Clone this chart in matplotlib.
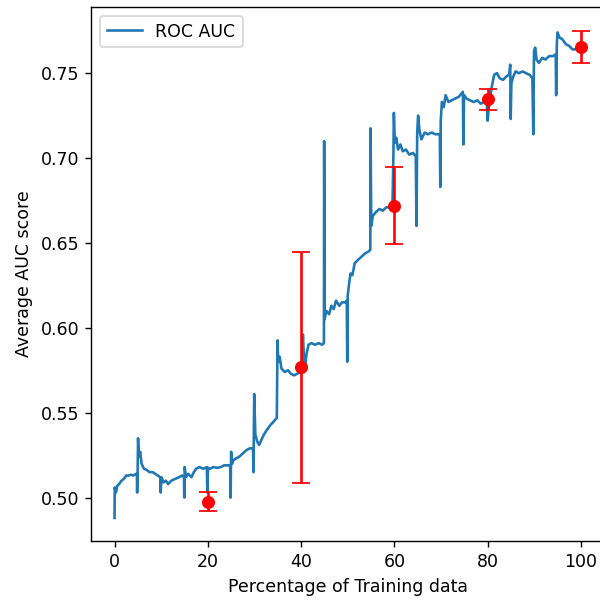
import matplotlib
matplotlib.use('Agg')
import matplotlib.pyplot as plt

# averaged ROC AUC curve
pct = [0.0, 0.05, 0.3, 0.6, 1.0, 1.5, 2.0, 2.5, 3.0, 3.5, 4.0, 4.6, 4.8, 4.85, 4.95,
       5.05, 5.2, 5.5, 5.8, 6.3, 6.8, 7.5, 8.2, 9.0, 9.8, 9.9, 10.05, 10.5, 11.0, 11.5,
       12.2, 13.0, 13.8, 14.5, 14.9, 14.95, 15.05, 15.3, 15.8, 16.5, 17.0, 17.5, 18.2,
       19.0, 19.8, 19.9, 20.05, 20.5, 21.2, 22.0, 22.8, 23.5, 24.3, 24.8, 24.9, 25.0,
       25.2, 25.5, 26.0, 26.7, 27.5, 28.3, 29.0, 29.7, 29.8, 29.95, 30.2, 30.6, 31.0,
       31.5, 32.0, 32.7, 33.5, 34.2, 34.8, 34.95, 35.1, 35.4, 35.8, 36.5, 37.2, 37.8,
       38.5, 39.2, 39.8, 40.2, 40.4, 40.6, 40.9, 41.2, 41.6, 42.2, 43.0, 43.8, 44.5,
       44.9, 44.95, 45.05, 45.4, 46.0, 46.5, 47.0, 47.5, 48.2, 48.8, 49.5, 49.8, 49.9,
       50.0, 50.3, 50.6, 51.0, 51.5, 52.2, 53.0, 53.8, 54.5, 54.85, 54.9, 55.05, 55.4,
       56.0, 56.8, 57.5, 58.3, 59.0, 59.6, 59.8, 59.9, 60.1, 60.4, 60.8, 61.3, 61.8,
       62.5, 63.2, 64.0, 64.6, 64.75, 64.9, 65.1, 65.4, 65.8, 66.5, 67.2, 68.0, 68.8,
       69.5, 69.75, 69.85, 69.95, 70.2, 70.6, 71.0, 71.6, 72.3, 73.0, 73.8, 74.4, 74.7,
       74.8, 74.95, 75.5, 76.2, 77.0, 77.8, 78.5, 79.2, 79.8, 80.0, 80.2, 80.5, 80.9,
       81.4, 82.0, 82.6, 83.3, 84.0, 84.6, 84.85, 84.95, 85.1, 85.5, 86.0, 86.7, 87.5,
       88.2, 89.0, 89.6, 89.8, 89.95, 90.2, 90.5, 91.0, 91.7, 92.4, 93.2, 94.0, 94.6,
       94.7, 94.85, 95.0, 95.4, 96.0, 96.8, 97.5, 98.2, 99.0, 99.7]
auc = [0.488, 0.506, 0.503, 0.507, 0.508, 0.510, 0.511, 0.513, 0.513, 0.5135, 0.513, 0.514, 0.514, 0.503, 0.514,
       0.535, 0.524, 0.527, 0.520, 0.517, 0.5165, 0.515, 0.515, 0.5135, 0.512, 0.503, 0.512, 0.509, 0.510, 0.508,
       0.510, 0.511, 0.512, 0.513, 0.512, 0.500, 0.518, 0.512, 0.514, 0.512, 0.515, 0.517, 0.518,
       0.517, 0.518, 0.503, 0.5175, 0.517, 0.518, 0.5175, 0.518, 0.519, 0.519, 0.519, 0.500, 0.527,
       0.520, 0.522, 0.523, 0.524, 0.526, 0.528, 0.529, 0.529, 0.515, 0.561, 0.537, 0.533, 0.531,
       0.534, 0.537, 0.540, 0.543, 0.545, 0.547, 0.5926, 0.580, 0.583, 0.576, 0.574, 0.575, 0.573,
       0.572, 0.573, 0.574, 0.5765, 0.596, 0.583, 0.579, 0.585, 0.590, 0.591, 0.590, 0.591, 0.590,
       0.591, 0.710, 0.605, 0.610, 0.608, 0.613, 0.611, 0.616, 0.613, 0.615, 0.615, 0.616, 0.580,
       0.619, 0.626, 0.632, 0.631, 0.638, 0.640, 0.642, 0.644, 0.645, 0.646, 0.7175, 0.660, 0.666,
       0.668, 0.670, 0.669, 0.671, 0.671, 0.672, 0.702, 0.7266, 0.709, 0.712, 0.705, 0.708, 0.704,
       0.705, 0.702, 0.703, 0.701, 0.660, 0.715, 0.725, 0.716, 0.711, 0.715, 0.714, 0.715, 0.714,
       0.714, 0.714, 0.683, 0.722, 0.733, 0.730, 0.737, 0.733, 0.734, 0.735, 0.736, 0.738, 0.739,
       0.708, 0.737, 0.735, 0.734, 0.733, 0.734, 0.732, 0.733, 0.734, 0.722, 0.728, 0.735, 0.742,
       0.749, 0.750, 0.747, 0.746, 0.748, 0.749, 0.755, 0.723, 0.744, 0.748, 0.751, 0.750, 0.751,
       0.750, 0.749, 0.747, 0.714, 0.763, 0.765, 0.758, 0.756, 0.759, 0.758, 0.760, 0.760, 0.761,
       0.737, 0.768, 0.774, 0.771, 0.770, 0.767, 0.766, 0.764, 0.764, 0.766]

# mean score with error bars at 20% steps
bar_pct = [20, 40, 60, 80, 100]
bar_mean = [0.4977, 0.5767, 0.672, 0.7345, 0.7656]
bar_err = [0.0057, 0.068, 0.0226, 0.006, 0.0094]

fig = plt.figure(figsize=(4.8, 4.808), dpi=125)
ax = fig.add_axes([0.152, 0.1, 0.855, 0.8885])

ax.plot(pct, auc, color='#1f77b4', linewidth=1.5, label='ROC AUC')
ax.errorbar(bar_pct, bar_mean, yerr=bar_err, fmt='o', color='red',
            markersize=6.5, capsize=5, elinewidth=1.5)

ax.set_xlim(-5, 105)
ax.set_ylim(0.4745, 0.789)
ax.set_xticks([0, 20, 40, 60, 80, 100])
ax.set_yticks([0.50, 0.55, 0.60, 0.65, 0.70, 0.75])
ax.set_xlabel('Percentage of Training data')
ax.set_ylabel('Average AUC score')
ax.legend(loc='upper left')

plt.savefig('out.png', dpi=125)
